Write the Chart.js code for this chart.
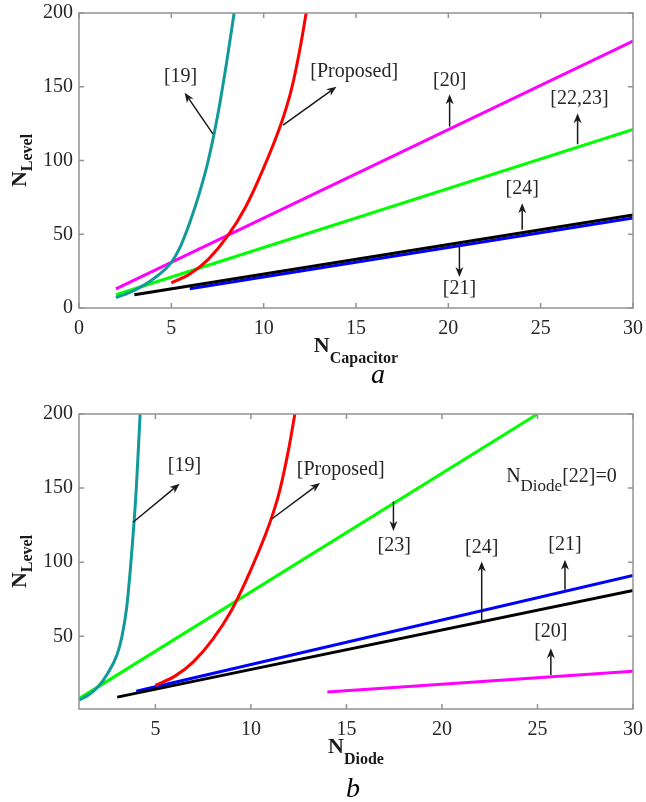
<!DOCTYPE html>
<html>
<head>
<meta charset="utf-8">
<script src="https://cdn.jsdelivr.net/npm/chart.js@4.4.0/dist/chart.umd.min.js"></script>
<style>
  body { margin: 0; background: #fff; }
  canvas { display: block; }
</style>
</head>
<body>
<canvas id="chartA" width="646" height="400"></canvas>
<canvas id="chartB" width="646" height="402"></canvas>
<script>
// ---- panel a: levels against number of capacitors ----
const capTicksX = [0, 5, 10, 15, 20, 25, 30];
const capTicksY = [0, 50, 100, 150, 200];

const capRef19X = [2, 3, 4, 5, 5.5, 6, 6.5, 7, 7.5, 8, 8.4];
const capRef19Y = [7, 12, 19.5, 31, 42, 58, 77, 100, 130, 167, 200];
const capPropX = [5, 6, 7, 8, 9, 10, 11, 11.5, 12, 12.3];
const capPropY = [17, 23, 33, 48, 68, 95, 127, 148, 178, 200];
const capRef20X = [2, 30];
const capRef20Y = [13, 181];
const capRef2223X = [2, 30];
const capRef2223Y = [9, 121];
const capRef24X = [3, 30];
const capRef24Y = [9, 63];
const capRef21X = [6, 30];
const capRef21Y = [13, 61];

// ---- panel b: levels against number of diodes ----
const dioTicksX = [5, 10, 15, 20, 25, 30];
const dioTicksY = [50, 100, 150, 200];

const dioRef19X = [1, 1.5, 2, 2.5, 3, 3.25, 3.5, 3.75, 4, 4.2];
const dioRef19Y = [7, 10.5, 16, 25, 38, 50, 70, 105, 150, 200];
const dioPropX = [5, 6, 7, 8, 9, 10, 11, 11.5, 12, 12.3];
const dioPropY = [17, 23, 33, 48, 68, 95, 127, 148, 178, 200];
const dioRef23X = [1, 25];
const dioRef23Y = [8, 200];
const dioRef21X = [4, 30];
const dioRef21Y = [13, 91];
const dioRef24X = [3, 30];
const dioRef24Y = [9, 81];
const dioRef20X = [14, 30];
const dioRef20Y = [12.5, 26.5];

const serif = '"Liberation Serif", "Times New Roman", serif';
const ink = '#262626';
const teal = '#129a9a';

const pts = (xs, ys) => xs.map((x, i) => ({ x, y: ys[i] }));

function series(data, color, curved) {
  return {
    data,
    showLine: true,
    borderColor: color,
    borderWidth: 3,
    pointRadius: 0,
    cubicInterpolationMode: curved ? 'monotone' : 'default',
    fill: false
  };
}

function arrow(ctx, x1, y1, x2, y2) {
  const ang = Math.atan2(y2 - y1, x2 - x1);
  const len = 10, half = 4;
  const c = Math.cos(ang), s = Math.sin(ang);
  ctx.beginPath();
  ctx.moveTo(x1, y1);
  ctx.lineTo(x2 - len * 0.7 * c, y2 - len * 0.7 * s);
  ctx.stroke();
  ctx.beginPath();
  ctx.moveTo(x2, y2);
  ctx.lineTo(x2 - len * c + half * s, y2 - len * s - half * c);
  ctx.lineTo(x2 - len * 0.7 * c, y2 - len * 0.7 * s);
  ctx.lineTo(x2 - len * c - half * s, y2 - len * s + half * c);
  ctx.closePath();
  ctx.fill();
}

// text made of runs, each with its own font and baseline shift
function runs(ctx, parts, x, y, align) {
  const widths = parts.map(p => { ctx.font = p.font; return ctx.measureText(p.t).width; });
  const total = widths.reduce((a, b) => a + b, 0);
  let cx = align === 'center' ? x - total / 2 : x;
  ctx.textAlign = 'left';
  ctx.textBaseline = 'alphabetic';
  parts.forEach((p, i) => {
    ctx.font = p.font;
    ctx.fillText(p.t, cx, y + (p.dy || 0));
    cx += widths[i];
  });
}

function figurePlugin(fig) {
  return {
    id: 'figure',
    afterDatasetsDraw(chart) {
      const { ctx, chartArea: a, scales: { x, y } } = chart;
      ctx.save();

      // box with inward ticks on every side
      ctx.strokeStyle = '#939393';
      ctx.lineWidth = 1.5;
      ctx.strokeRect(a.left, a.top, a.right - a.left, a.bottom - a.top);
      ctx.beginPath();
      x.ticks.forEach(t => {
        const px = x.getPixelForValue(t.value);
        ctx.moveTo(px, a.bottom); ctx.lineTo(px, a.bottom - 5);
        ctx.moveTo(px, a.top); ctx.lineTo(px, a.top + 5);
      });
      y.ticks.forEach(t => {
        const py = y.getPixelForValue(t.value);
        ctx.moveTo(a.left, py); ctx.lineTo(a.left + 5, py);
        ctx.moveTo(a.right, py); ctx.lineTo(a.right - 5, py);
      });
      ctx.stroke();

      // callouts
      ctx.lineWidth = 1.5;
      fig.notes.forEach(n => {
        ctx.strokeStyle = '#1a1a1a';
        ctx.fillStyle = '#1a1a1a';
        arrow(ctx,
          x.getPixelForValue(n.from[0]), y.getPixelForValue(n.from[1]),
          x.getPixelForValue(n.to[0]), y.getPixelForValue(n.to[1]));
        ctx.fillStyle = ink;
        ctx.font = `20px ${serif}`;
        ctx.textAlign = 'center';
        ctx.textBaseline = 'middle';
        ctx.fillText(n.text, x.getPixelForValue(n.at[0]), y.getPixelForValue(n.at[1]));
      });

      ctx.fillStyle = ink;
      if (fig.extra) {
        runs(ctx, [
          { t: 'N', font: `20px ${serif}` },
          { t: fig.extra.sub, font: `17px ${serif}`, dy: 9 },
          { t: fig.extra.rest, font: `20px ${serif}` }
        ], x.getPixelForValue(fig.extra.at[0]), y.getPixelForValue(fig.extra.at[1]), 'left');
      }

      // axis titles
      ctx.fillStyle = '#1a1a1a';
      const midX = (a.left + a.right) / 2;
      runs(ctx, [
        { t: 'N', font: `bold 22px ${serif}` },
        { t: fig.xSub, font: `bold 16px ${serif}`, dy: 11 }
      ], midX, a.bottom + 44, 'center');

      ctx.save();
      ctx.translate(26, (a.top + a.bottom) / 2);
      ctx.rotate(-Math.PI / 2);
      runs(ctx, [
        { t: 'N', font: `bold 22px ${serif}` },
        { t: 'Level', font: `bold 16px ${serif}`, dy: 6 }
      ], 0, 0, 'center');
      ctx.restore();

      // panel letter
      ctx.fillStyle = '#000';
      ctx.font = `italic 28px ${serif}`;
      ctx.textAlign = 'center';
      ctx.textBaseline = 'alphabetic';
      ctx.fillText(fig.letter, fig.letterX, fig.letterY);

      ctx.restore();
    }
  };
}

function makeChart(id, datasets, xr, yr, padTop, bottomH, fig) {
  const tickFont = { family: serif, size: 20 };
  return new Chart(document.getElementById(id), {
    type: 'scatter',
    data: { datasets },
    options: {
      responsive: false,
      animation: false,
      layout: { padding: { top: padTop, right: 13, left: 0, bottom: 0 } },
      plugins: { legend: { display: false }, tooltip: { enabled: false } },
      scales: {
        x: {
          type: 'linear',
          min: xr.min, max: xr.max,
          grid: { display: false, drawTicks: false },
          border: { display: false },
          ticks: { font: tickFont, color: ink, padding: 9, maxRotation: 0 },
          afterBuildTicks: s => { s.ticks = xr.ticks.map(v => ({ value: v })); },
          afterFit: s => { s.height = bottomH; s.paddingLeft = 0; s.paddingRight = 0; }
        },
        y: {
          type: 'linear',
          min: yr.min, max: yr.max,
          grid: { display: false, drawTicks: false },
          border: { display: false },
          ticks: { font: tickFont, color: ink, padding: 6 },
          afterBuildTicks: s => { s.ticks = yr.ticks.map(v => ({ value: v })); },
          afterFit: s => { s.width = 79; s.paddingTop = 0; s.paddingBottom = 0; }
        }
      }
    },
    plugins: [figurePlugin(fig)]
  });
}

makeChart('chartA', [
  series(pts(capRef19X, capRef19Y), teal, true),
  series(pts(capPropX, capPropY), '#ff0000', true),
  series(pts(capRef24X, capRef24Y), '#000000'),
  series(pts(capRef21X, capRef21Y), '#0000ff'),
  series(pts(capRef2223X, capRef2223Y), '#00ff00'),
  series(pts(capRef20X, capRef20Y), '#ff00ff')
], { min: 0, max: 30, ticks: capTicksX }, { min: 0, max: 200, ticks: capTicksY }, 13, 92, {
  xSub: 'Capacitor',
  letter: 'a', letterX: 378, letterY: 383,
  notes: [
    { text: '[19]', at: [5.5, 157], from: [7.25, 118], to: [5.72, 146] },
    { text: '[Proposed]', at: [14.9, 160], from: [11.05, 124], to: [13.94, 150] },
    { text: '[20]', at: [20.07, 154], from: [20.07, 123], to: [20.07, 145] },
    { text: '[22,23]', at: [27.1, 142], from: [27, 111], to: [27, 132] },
    { text: '[24]', at: [24, 81], from: [24, 53], to: [24, 71] },
    { text: '[21]', at: [20.6, 13], from: [20.6, 42], to: [20.6, 21] }
  ]
});

makeChart('chartB', [
  series(pts(dioRef19X, dioRef19Y), teal, true),
  series(pts(dioPropX, dioPropY), '#ff0000', true),
  series(pts(dioRef23X, dioRef23Y), '#00ff00'),
  series(pts(dioRef24X, dioRef24Y), '#000000'),
  series(pts(dioRef21X, dioRef21Y), '#0000ff'),
  series(pts(dioRef20X, dioRef20Y), '#ff00ff')
], { min: 1, max: 30, ticks: dioTicksX }, { min: 1, max: 200, ticks: dioTicksY }, 14, 93, {
  xSub: 'Diode',
  letter: 'b', letterX: 353, letterY: 397,
  extra: { sub: 'Diode', rest: '[22]=0', at: [23.36, 154.4] },
  notes: [
    { text: '[19]', at: [6.52, 165], from: [3.83, 127], to: [6.27, 153] },
    { text: '[Proposed]', at: [14.7, 162.5], from: [11.07, 129], to: [13.62, 153.5] },
    { text: '[23]', at: [17.5, 111], from: [17.46, 141], to: [17.46, 121] },
    { text: '[24]', at: [22.08, 110], from: [22.08, 61], to: [22.08, 100.5] },
    { text: '[21]', at: [26.44, 112], from: [26.44, 81.4], to: [26.44, 101.7] },
    { text: '[20]', at: [25.7, 53.4], from: [25.7, 24], to: [25.7, 42] }
  ]
});
</script>
</body>
</html>
